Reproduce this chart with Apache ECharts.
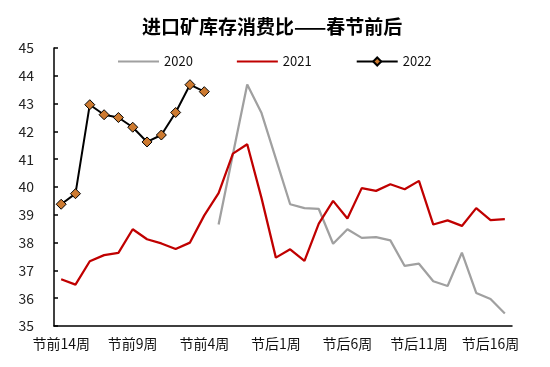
<!DOCTYPE html>
<html>
<head>
<meta charset="utf-8">
<script src="https://cdn.jsdelivr.net/npm/echarts@6/dist/echarts.min.js"></script>
<style>html,body{margin:0;padding:0;background:#fff;}#c{width:550px;height:367px;}</style>
</head>
<body>
<div id="c"></div>
<script>
const categories = ["节前14周","节前13周","节前12周","节前11周","节前10周","节前9周","节前8周","节前7周","节前6周","节前5周","节前4周","节前3周","节前2周","节前1周","春节周",
  "节后1周","节后2周","节后3周","节后4周","节后5周","节后6周","节后7周","节后8周","节后9周","节后10周","节后11周","节后12周","节后13周","节后14周","节后15周","节后16周","节后17周"];
const s2020 = [null,null,null,null,null,null,null,null,null,null,null,38.65,41.18,43.69,42.66,41.02,39.38,39.24,39.21,37.96,38.48,38.17,38.2,38.08,37.16,37.24,36.61,36.44,37.64,36.19,35.97,35.45];
const s2021 = [36.68,36.49,37.33,37.55,37.63,38.48,38.12,37.97,37.77,38.0,38.98,39.78,41.2,41.54,39.6,37.46,37.76,37.34,38.68,39.5,38.87,39.96,39.86,40.1,39.92,40.22,38.65,38.8,38.6,39.24,38.81,38.84];
const s2022 = [39.38,39.76,42.96,42.6,42.5,42.15,41.62,41.87,42.68,43.68,43.43];
const yTicks = {min:35, max:45, interval:1};
const FONT = '"Noto Sans CJK SC", "Noto Sans", sans-serif';
const lineIcon = 'path://M0,0L41,0L41,2.2L0,2.2Z';

const chart = echarts.init(document.getElementById('c'), null, {renderer:'canvas'});
chart.setOption({
  animation:false,
  backgroundColor:'#fff',
  title:{text:'进口矿库存消费比——春节前后', left:137, top:12,
    textStyle:{fontFamily:FONT, fontSize:19, fontWeight:'bold', color:'#000'}},
  legend:{left:113, top:50, itemWidth:41, itemHeight:10, itemGap:44,
    textStyle:{fontFamily:FONT, fontSize:13, color:'#111'},
    data:[{name:'2020', icon:lineIcon},{name:'2021', icon:lineIcon},{name:'2022'}]},
  grid:{left:54, right:38, top:48, bottom:41, containLabel:false},
  xAxis:{type:'category', data:categories, boundaryGap:true,
    axisLine:{lineStyle:{color:'#000', width:1.5}},
    axisTick:{inside:true, length:4, interval:3, lineStyle:{color:'#000', width:1.5}},
    axisLabel:{interval:4, margin:11, fontFamily:FONT, fontSize:14, color:'#111'},
    splitLine:{show:false}},
  yAxis:{type:'value', min:yTicks.min, max:yTicks.max, interval:yTicks.interval,
    axisLine:{show:true, lineStyle:{color:'#000', width:1.5}},
    axisTick:{show:true, inside:true, length:4, lineStyle:{color:'#000', width:1.5}},
    axisLabel:{margin:20, fontFamily:FONT, fontSize:14, color:'#222'},
    splitLine:{show:false}},
  series:[
    {name:'2020', type:'line', data:s2020, symbol:'none', connectNulls:false,
      lineStyle:{color:'#A0A0A0', width:2.25}, itemStyle:{color:'#A0A0A0'}},
    {name:'2021', type:'line', data:s2021, symbol:'none',
      lineStyle:{color:'#C00000', width:2.25}, itemStyle:{color:'#C00000'}},
    {name:'2022', type:'line', data:s2022, symbol:'diamond', symbolSize:10, showAllSymbol:true,
      lineStyle:{color:'#000', width:2}, itemStyle:{color:'#CD7A30', borderColor:'#000', borderWidth:1}, z:5}
  ]
});
</script>
</body>
</html>
